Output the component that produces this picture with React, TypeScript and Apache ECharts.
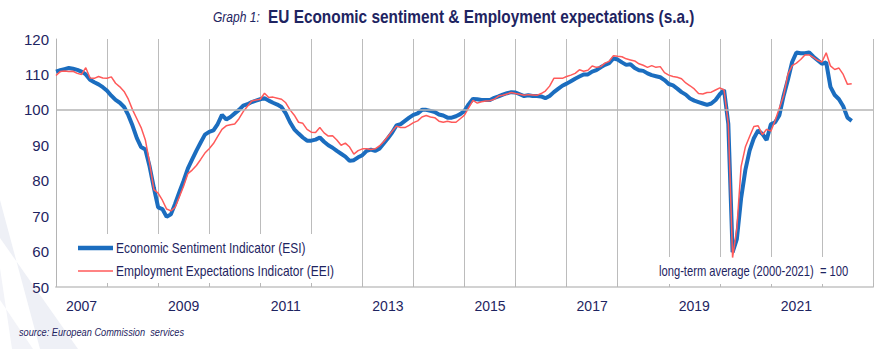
import React, { useEffect, useRef } from "react";
import * as echarts from "echarts";

// Monthly data, Jan 2007 .. Aug 2022
const startYear = 2007;
const esi: number[] = [
  110.8, 111.2, 111.5, 111.8, 111.6, 111.3, 110.8, 110.0, 108.5, 107.8, 107.2, 106.4,
  105.4, 104.0, 102.8, 102.0, 100.8, 98.5, 95.5, 92.0, 89.5, 88.8, 84.0, 78.0,
  72.5, 72.0, 69.8, 70.5, 73.5, 76.8, 80.0, 83.5, 86.0, 88.5, 90.8, 93.0,
  93.8, 94.2, 96.0, 98.6, 97.3, 98.0, 99.0, 100.0, 101.2, 101.6, 102.2, 102.6,
  103.0, 103.3, 102.6, 102.0, 101.5, 100.8, 99.0, 96.5, 94.5, 93.3, 92.2, 91.3,
  91.3, 91.6, 92.2, 91.0, 90.0, 89.3, 88.4, 87.6, 86.8, 85.6, 85.8, 86.6,
  87.2, 88.4, 88.8, 88.4, 89.0, 90.5, 92.0, 93.6, 95.6, 96.0, 96.9, 97.8,
  98.6, 99.0, 100.0, 100.0, 99.7, 99.4, 98.7, 98.4, 97.8, 97.8, 98.2, 98.8,
  99.7, 101.6, 103.1, 103.0, 102.8, 102.8, 102.8, 103.4, 103.8, 104.3, 104.7, 105.0,
  104.9, 104.4, 103.9, 104.1, 103.9, 103.9, 103.8, 103.3, 103.9, 105.0, 105.9, 106.8,
  107.4, 108.1, 108.8, 109.4, 110.0, 110.0, 110.8, 111.2, 112.0, 112.7, 113.2, 114.5,
  114.2, 113.4, 112.7, 112.9, 111.8, 111.2, 111.0, 110.3, 109.8, 109.5, 109.2, 108.4,
  107.3, 106.9, 106.0, 105.0, 104.3, 103.2, 102.6, 102.2, 101.8, 101.4, 101.8, 102.8,
  104.4, 105.6, 96.0, 59.8, 63.5, 75.0, 83.0, 88.5, 92.0, 94.2, 93.2, 91.5,
  95.9, 96.5, 98.5, 104.0, 108.5, 113.5, 116.2, 116.0, 116.0, 116.2, 115.0, 114.0,
  113.0, 113.4, 106.5, 104.2, 103.0, 101.0, 97.8, 96.9,
];
const eei: number[] = [
  109.7, 110.8, 111.0, 110.8, 110.9, 110.3, 110.0, 111.9, 109.0, 108.9, 109.4, 109.0,
  108.9, 109.3, 107.5, 106.5, 105.2, 103.0, 100.0, 97.5, 95.0, 91.5, 85.0, 77.5,
  76.5, 74.5, 72.0, 71.5, 72.5, 75.5, 78.5, 82.0, 83.0, 84.3, 86.0, 87.8,
  89.0, 90.5, 92.5, 94.5, 95.5, 95.8, 96.0, 97.5, 99.5, 101.0, 102.5, 102.8,
  103.0, 104.7, 103.5, 103.6, 103.3, 103.0, 102.0, 100.0, 98.5, 96.5, 96.2, 94.5,
  93.7, 93.6, 95.0, 93.5, 92.6, 92.7, 91.5, 90.0, 90.6, 89.5, 87.5, 88.5,
  89.0, 89.0, 88.8, 89.0, 89.8, 91.0, 92.5, 94.0, 95.4, 95.0, 95.0, 95.6,
  96.4, 96.9, 98.0, 98.4, 98.0, 97.8, 96.8, 96.5, 96.8, 96.5, 96.5, 97.5,
  98.5, 100.6, 102.7, 101.9, 102.3, 102.5, 102.6, 103.0, 103.9, 104.1, 104.5, 104.9,
  104.6, 104.4, 104.1, 104.3, 104.2, 104.1, 104.6, 105.3, 106.7, 108.9, 108.9, 108.9,
  109.4, 109.8, 110.3, 111.3, 110.9, 111.2, 112.4, 112.0, 112.2, 113.2, 113.7, 115.3,
  115.1, 115.0, 114.4, 114.1, 113.8, 113.0, 112.6, 112.0, 112.5, 112.0, 112.2, 110.5,
  109.8, 109.4, 109.2, 108.8, 107.6, 106.8, 105.9, 104.6, 104.5, 104.9, 105.0, 105.6,
  106.2, 105.6, 96.0, 58.3, 66.5, 84.0, 89.5, 92.5, 95.3, 95.5, 93.0, 94.5,
  94.0, 97.0, 100.5, 104.0, 110.0, 112.5, 113.2, 114.2, 115.5, 115.5, 114.8, 114.0,
  113.5, 116.1, 112.4, 111.4, 111.8, 110.0, 107.2, 107.4,
];
const yearLabels: string[] = ["2007", "2009", "2011", "2013", "2015", "2017", "2019", "2021"];
const seriesNames: string[] = [
  "Economic Sentiment Indicator (ESI)",
  "Employment Expectations Indicator (EEI)",
];
const longTermAverage = 100;

const NAVY = "#1e2461";
const ESI_COLOR = "#1b6dbf";
const EEI_COLOR = "#ff5a5a";
const SANS = "'Liberation Sans', Arial, sans-serif";
const NARROW_SCALE = 0.86;

function txt(
  text: string,
  x: number,
  y: number,
  size: number,
  opts: { italic?: boolean; bold?: boolean; scale?: number; z?: number } = {}
) {
  return {
    type: "text",
    x,
    y,
    scaleX: opts.scale ?? NARROW_SCALE,
    z: opts.z ?? 5,
    silent: true,
    style: {
      text,
      fill: NAVY,
      fontFamily: SANS,
      fontSize: size,
      fontStyle: opts.italic ? "italic" : "normal",
      fontWeight: opts.bold ? "bold" : "normal",
      align: "left",
      verticalAlign: "middle",
      textAlign: "left",
      textVerticalAlign: "middle",
    },
  };
}

export default function App() {
  const ref = useRef<HTMLDivElement>(null);
  useEffect(() => {
    if (!ref.current) return;
    const chart = echarts.init(ref.current, undefined, { renderer: "svg" });
    const toPairs = (arr: number[]) => arr.map((v, i) => [i, v]);
    const totalMonths = 16 * 12;
    chart.setOption({
      animation: false,
      backgroundColor: "#ffffff",
      graphic: [
        // faint decorative diagonal bands (bottom-left)
        {
          type: "polygon",
          silent: true,
          z: -10,
          shape: { points: [[0, 200], [0, 238], [78, 349], [40, 349]] },
          style: { fill: "#eef0f6" },
        },
        {
          type: "polygon",
          silent: true,
          z: -10,
          shape: { points: [[0, 268], [0, 300], [33, 349], [12, 349]] },
          style: { fill: "#f2f3f8" },
        },
        // title
        txt("Graph 1:", 213, 17, 14, { italic: true }),
        txt("EU Economic sentiment & Employment expectations (s.a.)", 268, 17, 18, { bold: true, scale: 0.855 }),
        // legend box
        {
          type: "rect",
          silent: true,
          z: 1,
          shape: { x: 57, y: 234, width: 284, height: 49 },
          style: { fill: "#ffffff" },
        },
        {
          type: "line",
          silent: true,
          z: 5,
          shape: { x1: 78, y1: 248, x2: 113, y2: 248 },
          style: { stroke: ESI_COLOR, lineWidth: 4.5 },
        },
        {
          type: "line",
          silent: true,
          z: 5,
          shape: { x1: 78, y1: 271, x2: 113, y2: 271 },
          style: { stroke: EEI_COLOR, lineWidth: 1.5 },
        },
        txt(seriesNames[0], 116, 248, 14, { scale: 0.855 }),
        txt(seriesNames[1], 116, 271, 14, { scale: 0.855 }),
        // long-term average note
        {
          type: "rect",
          silent: true,
          z: 1,
          shape: { x: 650, y: 257, width: 212, height: 27 },
          style: { fill: "#ffffff" },
        },
        txt("long-term average (2000-2021)  = " + longTermAverage, 659, 272, 14, { scale: 0.8 }),
        // source
        txt("source: European Commission  services", 19, 332, 11, { italic: true, scale: 0.84 }),
      ],
      grid: { left: 56, right: 21, top: 39, bottom: 62 },
      xAxis: [
        {
          type: "value",
          min: 0,
          max: totalMonths,
          interval: 12,
          axisLine: { show: true, lineStyle: { color: "#d2d2d2", width: 2 } },
          axisTick: { show: true, inside: true, length: 4, lineStyle: { color: "#b8b8b8" } },
          axisLabel: { show: false },
          splitLine: { show: true, lineStyle: { color: "#bcbcbc", width: 1 } },
        },
        {
          type: "value",
          min: 0,
          max: totalMonths,
          interval: 6,
          position: "bottom",
          axisLine: { show: false },
          axisTick: { show: false },
          splitLine: { show: false },
          axisLabel: {
            show: true,
            margin: 12,
            fontFamily: SANS,
            fontSize: 14,
            color: NAVY,
            formatter: (v: number) => {
              if ((v - 6) % 24 !== 0) return "";
              const idx = (v - 6) / 24;
              return yearLabels[idx] ?? "";
            },
          },
        },
      ],
      yAxis: {
        type: "value",
        min: 50,
        max: 120,
        interval: 10,
        axisLine: { show: true, lineStyle: { color: "#b4b4b4", width: 1 } },
        axisTick: { show: false },
        splitLine: { show: false },
        axisLabel: { fontFamily: SANS, fontSize: 15, color: NAVY, margin: 7 },
      },
      series: [
        {
          name: "avg",
          type: "line",
          data: [],
          z: 1,
          silent: true,
          markLine: {
            silent: true,
            symbol: "none",
            label: { show: false },
            lineStyle: { color: "#b4b4b4", width: 1.5, type: "solid" },
            data: [{ yAxis: longTermAverage }],
          },
        },
        {
          name: seriesNames[1],
          type: "line",
          data: toPairs(eei),
          symbol: "none",
          z: 3,
          lineStyle: { color: EEI_COLOR, width: 1.5 },
          itemStyle: { color: EEI_COLOR },
        },
        {
          name: seriesNames[0],
          type: "line",
          data: toPairs(esi),
          symbol: "none",
          z: 2,
          lineStyle: { color: ESI_COLOR, width: 4 },
          itemStyle: { color: ESI_COLOR },
        },
      ],
    });
    return () => chart.dispose();
  }, []);
  return (
    <div
      ref={ref}
      style={{ position: "absolute", left: 0, top: 0, width: 894, height: 349, background: "#fff" }}
    />
  );
}
